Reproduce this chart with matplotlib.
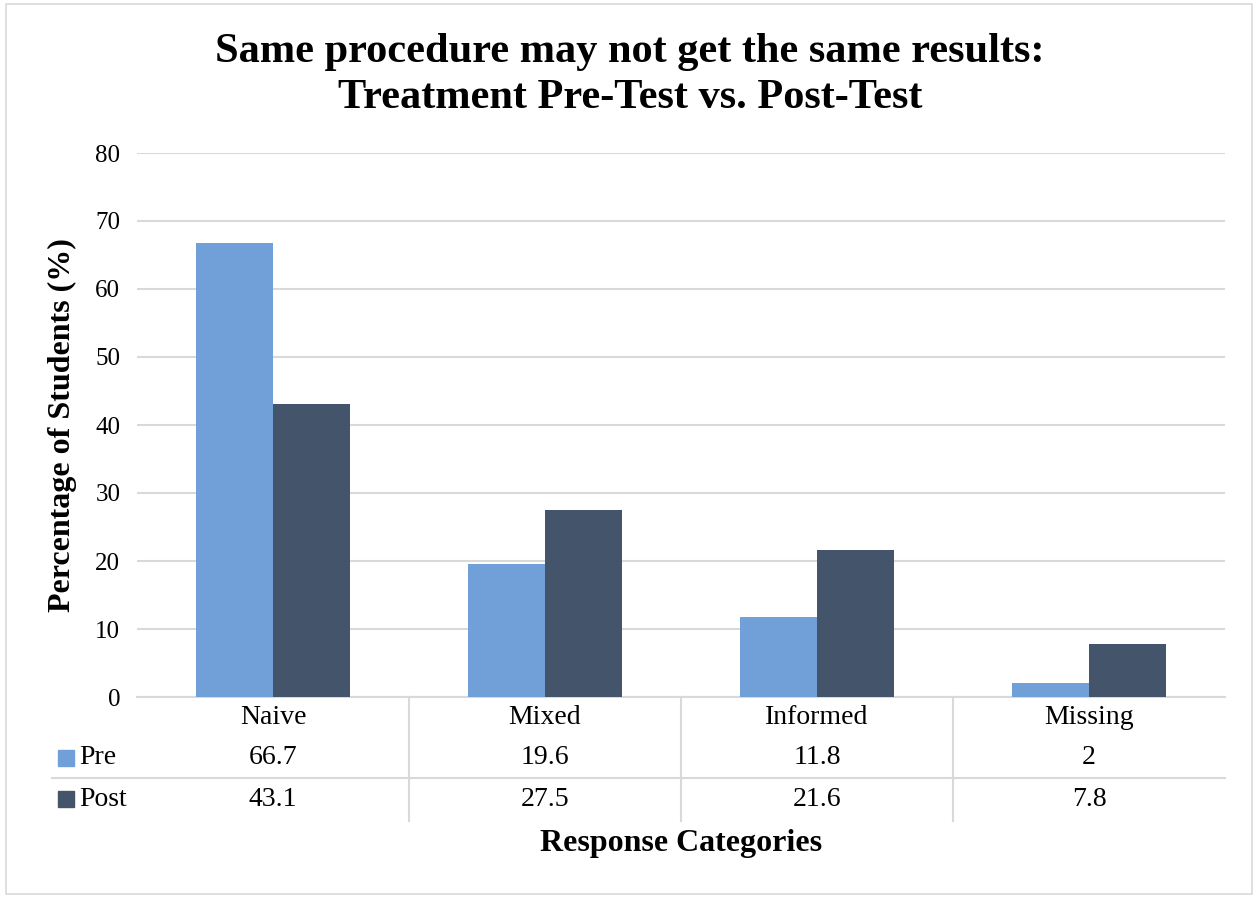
import numpy as np
import matplotlib
matplotlib.use("Agg")
import matplotlib.pyplot as plt
from matplotlib.patches import Rectangle

plt.rcParams['font.family'] = ['Liberation Serif', 'DejaVu Serif']

# Response categories and percentages for each test
categories = ["Naive", "Mixed", "Informed", "Missing"]
series_names = ["Pre", "Post"]
pre_values = [66.7, 19.6, 11.8, 2]
post_values = [43.1, 27.5, 21.6, 7.8]
y_ticks = [0, 10, 20, 30, 40, 50, 60, 70, 80]

pre_color = "#719fd7"
post_color = "#44546a"
grid_color = "#d9d9d9"

W, H = 1259, 898


def fx(px):
    return px / W


def fy(py):
    return 1 - py / H


fig = plt.figure(figsize=(W / 100, H / 100), dpi=100)
fig.patch.set_facecolor("white")

# Outer frame of the chart
fig.patches.append(Rectangle((fx(6), fy(894)), fx(1252) - fx(6), fy(4) - fy(894),
                             transform=fig.transFigure, fill=False,
                             edgecolor=grid_color, linewidth=1.2))

ax = fig.add_axes([fx(137), fy(697), fx(1225) - fx(137), fy(153) - fy(697)])

x = np.arange(len(categories))
bw = 0.283
ax.bar(x - bw / 2, pre_values, bw, color=pre_color, zorder=3)
ax.bar(x + bw / 2, post_values, bw, color=post_color, zorder=3)

ax.set_xlim(-0.5, len(categories) - 0.5)
ax.set_ylim(0, 80)
ax.set_yticks(y_ticks)
ax.set_yticklabels([str(t) for t in y_ticks], fontsize=18)
ax.tick_params(axis='y', length=0, pad=12)
ax.set_xticks([])
ax.grid(axis='y', color=grid_color, linewidth=1.5, zorder=0)
for side in ["top", "right", "left"]:
    ax.spines[side].set_visible(False)
ax.spines["bottom"].set_color(grid_color)
ax.spines["bottom"].set_linewidth(1.5)

# Data table under the axis
tr = ax.get_xaxis_transform()
px_per_axes = 697 - 153


def ay(py):
    return (697 - py) / px_per_axes


row_cat, row_pre, row_post = ay(718), ay(758), ay(799)
for i, cat in enumerate(categories):
    ax.text(i, row_cat, cat, transform=tr, ha='center', va='center',
            fontsize=20, clip_on=False)
    ax.text(i, row_pre, f"{pre_values[i]:g}", transform=tr, ha='center',
            va='center', fontsize=20, clip_on=False)
    ax.text(i, row_post, f"{post_values[i]:g}", transform=tr, ha='center',
            va='center', fontsize=20, clip_on=False)

for b in x[:-1] + 0.5:
    ax.plot([b, b], [0, ay(821)], transform=tr, color=grid_color,
            linewidth=1.5, clip_on=False)

left_edge = (52 - 137) / 272 - 0.5
ax.plot([left_edge, len(categories) - 0.5], [ay(778), ay(778)], transform=tr,
        color=grid_color, linewidth=1.5, clip_on=False)

# Legend keys in the table rows
for name, color, row_py in [(series_names[0], pre_color, 758),
                            (series_names[1], post_color, 799)]:
    fig.patches.append(Rectangle((fx(58), fy(row_py + 8)), fx(16), fy(0) - fy(16),
                                 transform=fig.transFigure, color=color))
    fig.text(fx(79), fy(row_py), name, ha='left', va='center', fontsize=20)

fig.text(fx(630), fy(75), "Same procedure may not get the same results:\nTreatment Pre-Test vs. Post-Test",
         ha='center', va='center', fontsize=30.5, fontweight='bold', linespacing=1.27)
fig.text(fx(62), fy(425), "Percentage of Students (%)", rotation=90,
         ha='center', va='center', fontsize=23, fontweight='bold')
fig.text(fx(681), fy(843), "Response Categories", ha='center', va='center',
         fontsize=23, fontweight='bold')

fig.savefig("out.png", dpi=100)
